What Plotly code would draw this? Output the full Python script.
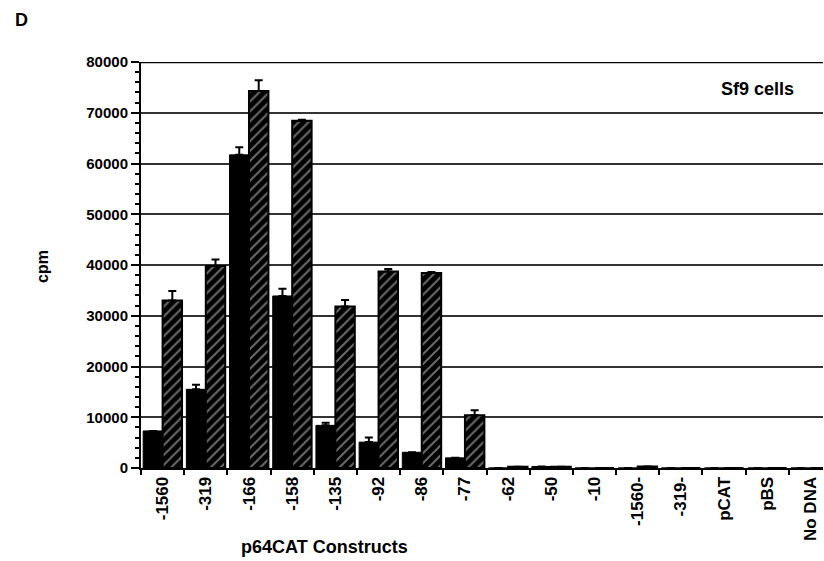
import plotly.graph_objects as go

categories = ["-1560", "-319", "-166", "-158", "-135", "-92", "-86", "-77",
              "-62", "-50", "-10", "-1560-", "-319-", "pCAT", "pBS", "No DNA"]
solid_values = [7300, 15500, 61700, 33900, 8400, 5100, 3100, 2000,
                0, 300, 0, 0, 0, 0, 0, 0]
solid_err = [0, 900, 1500, 1400, 500, 900, 0, 0,
             0, 0, 0, 0, 0, 0, 0, 0]
hatched_values = [33000, 39800, 74300, 68400, 31800, 38700, 38400, 10400,
                  250, 250, 0, 300, 0, 0, 0, 0]
hatched_err = [1900, 1300, 2100, 200, 1300, 500, 200, 1000,
               0, 0, 0, 0, 0, 0, 0, 0]
y_ticks = [0, 10000, 20000, 30000, 40000, 50000, 60000, 70000, 80000]

FONT = "Liberation Sans, Arial, Helvetica, sans-serif"

fig = go.Figure()
fig.add_trace(go.Bar(
    x=categories, y=solid_values,
    marker=dict(color="black", line=dict(color="black", width=1)),
    error_y=dict(type="data", symmetric=False, array=solid_err,
                 arrayminus=[0] * len(solid_err), color="black",
                 thickness=2, width=4),
    showlegend=False,
))
fig.add_trace(go.Bar(
    x=categories, y=hatched_values,
    marker=dict(color="black", line=dict(color="black", width=2),
                pattern=dict(shape="/", bgcolor="black", fgcolor="#d8d8d8",
                             size=7, solidity=0.28)),
    error_y=dict(type="data", symmetric=False, array=hatched_err,
                 arrayminus=[0] * len(hatched_err), color="black",
                 thickness=2, width=4),
    showlegend=False,
))

fig.update_layout(
    width=824, height=561,
    margin=dict(l=141, r=1, t=62, b=93),
    paper_bgcolor="white", plot_bgcolor="white",
    barmode="group", bargap=0.1, bargroupgap=0,
    font=dict(family=FONT, color="black"),
    xaxis=dict(
        type="category", range=[-0.5, 15.29],
        tickson="boundaries", ticks="outside", ticklen=5, tickwidth=2,
        tickcolor="black", showline=True, linecolor="black", linewidth=2,
        showgrid=False, tickangle=-90,
        tickfont=dict(family=FONT, size=17, weight="bold", color="black"),
    ),
    yaxis=dict(
        range=[0, 80000], tickvals=y_ticks, ticktext=[str(v) for v in y_ticks],
        ticks="outside", ticklen=8, tickwidth=2, tickcolor="black",
        showline=True, linecolor="black", linewidth=2,
        showgrid=True, gridcolor="#333333", gridwidth=1.5,
        zeroline=False,
        minor=dict(dtick=2000, ticks="outside", ticklen=4, tickwidth=1.5,
                   tickcolor="black", showgrid=False),
        tickfont=dict(family=FONT, size=15, weight="bold", color="black"),
    ),
)

fig.add_shape(type="line", xref="paper", yref="y", x0=0, x1=1, y0=80000, y1=80000,
              line=dict(color="black", width=2.5))

def px_x(v):
    return (v - 141) / 682

def px_y(v):
    return (468 - v) / 406

ann = dict(xref="paper", yref="paper", showarrow=False,
           xanchor="center", yanchor="middle")
fig.add_annotation(text="D", x=px_x(22), y=px_y(20),
                   font=dict(family=FONT, size=18, weight="bold"), **ann)
fig.add_annotation(text="cpm", x=px_x(42), y=px_y(267), textangle=-90,
                   font=dict(family=FONT, size=16, weight="bold"), **ann)
fig.add_annotation(text="p64CAT Constructs", x=px_x(324), y=px_y(547),
                   font=dict(family=FONT, size=18, weight="bold"), **ann)
fig.add_annotation(text="Sf9 cells", x=px_x(757), y=px_y(89),
                   font=dict(family=FONT, size=18, weight="bold"), **ann)

fig.write_html("out.html", config={"displayModeBar": False},
               post_script="document.body.style.margin='0';document.body.style.padding='0';")
